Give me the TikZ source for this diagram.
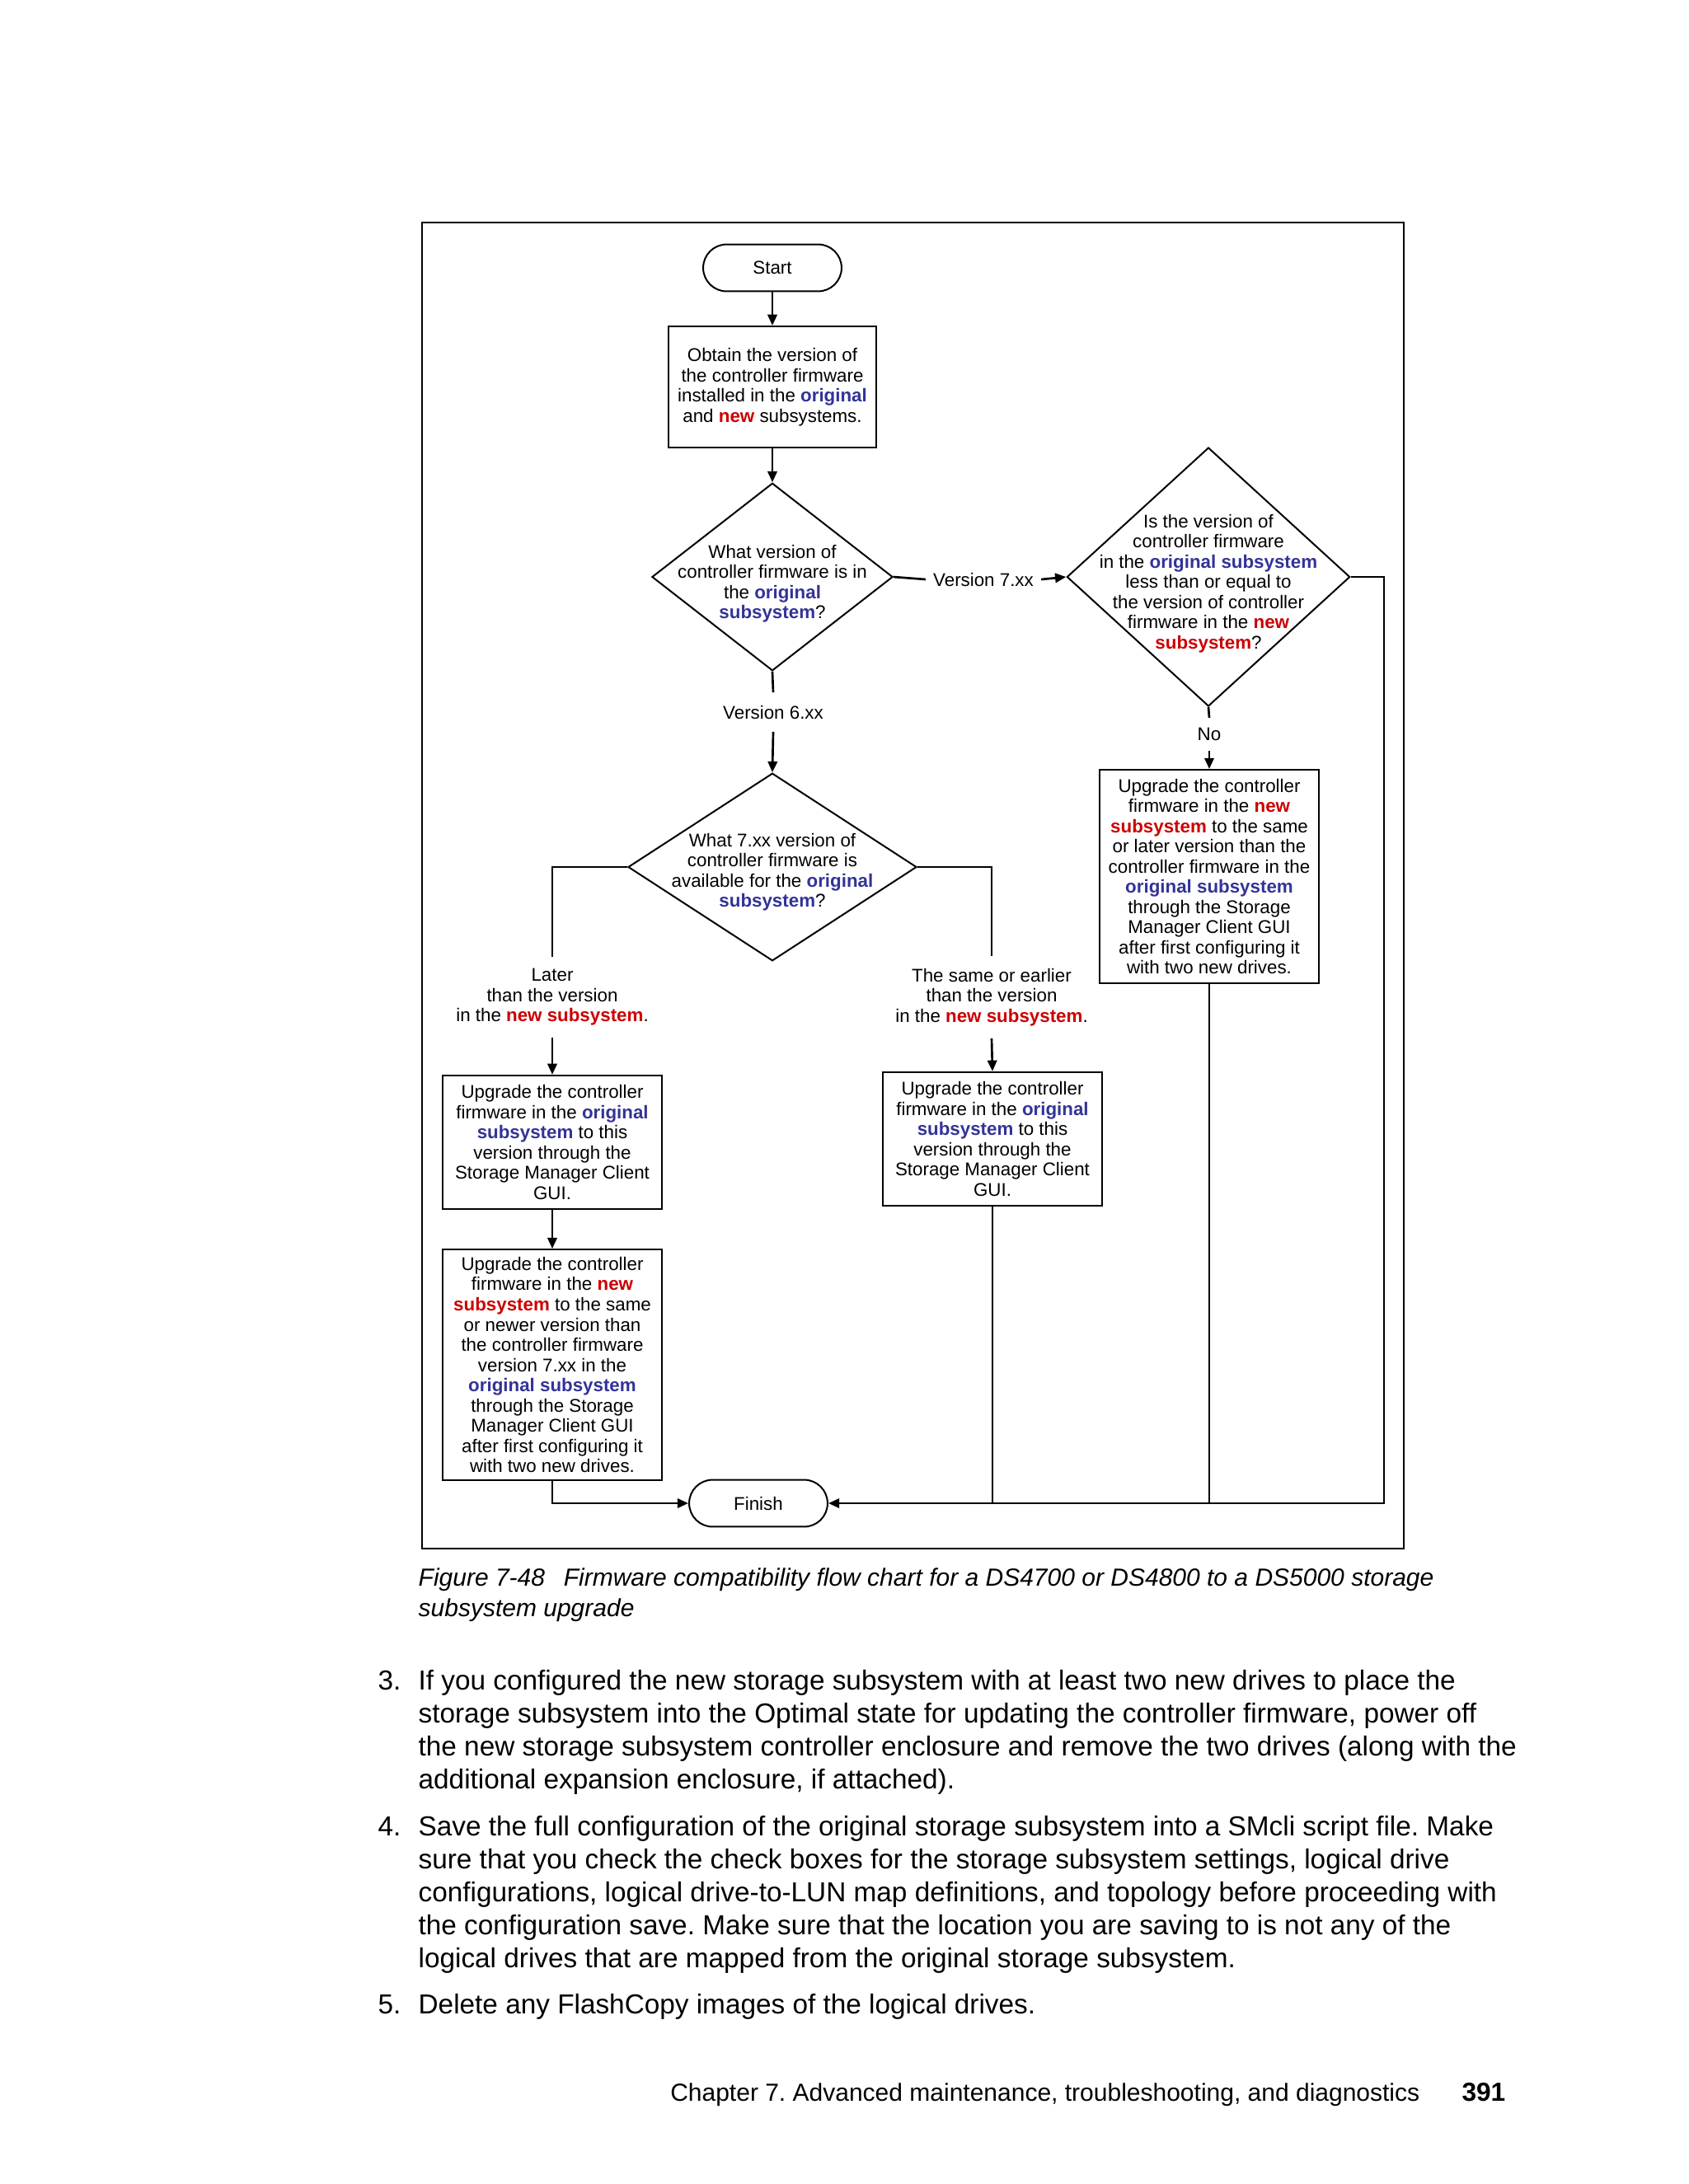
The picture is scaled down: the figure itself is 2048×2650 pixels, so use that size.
\documentclass[tikz,border=0pt]{standalone}
\usepackage{fontspec}
\setmainfont{Liberation Sans}
\usetikzlibrary{shapes.geometric,arrows.meta}

\definecolor{origblue}{RGB}{51,51,153}
\definecolor{newred}{RGB}{204,0,0}
\newcommand{\origtxt}[1]{\textbf{\textcolor{origblue}{#1}}}
\newcommand{\newtxt}[1]{\textbf{\textcolor{newred}{#1}}}
\newcommand{\chartsize}{\fontsize{6.7pt}{7.35pt}\selectfont}
\newcommand{\bodysize}{\fontsize{10pt}{12pt}\selectfont}
\newcommand{\capsize}{\fontsize{9pt}{11pt}\selectfont}
\frenchspacing

\begin{document}
\begin{tikzpicture}[x=0.10542mm,y=-0.10542mm,
  >={Triangle[length=1.4mm,width=1.2mm]},
  terminal/.style={draw,line width=0.6pt,rounded corners=3mm,minimum width=17.7mm,minimum height=6mm,inner sep=0pt,font=\chartsize},
  process/.style={draw,line width=0.6pt,align=center,inner sep=0pt,font=\chartsize,execute at begin node={\rule{0pt}{7pt}}},
  decision/.style={draw,line width=0.6pt,diamond,inner sep=0pt},
  chartlbl/.style={align=center,inner sep=2.6pt,font=\chartsize},
  flow/.style={line width=0.8pt},
  bodyline/.style={anchor=base west,inner sep=0pt,font=\bodysize}]

\useasboundingbox[fill=white] (0,0) rectangle (2048,2650);

% frame of the figure
\draw[line width=0.8pt] (512,270) rectangle (1703,1879);

% top part
\node[terminal] (start) at (937,325) {Start};
\node[process,minimum width=26.6mm,minimum height=15.5mm] (obtain) at (937,469.5)
  {Obtain the version of\\the controller firmware\\installed in the \origtxt{original}\\and \newtxt{new} subsystems.};

\node[decision,minimum width=30.8mm,minimum height=24mm] (q1) at (937,700) {};
\node[chartlbl,inner sep=0pt] (q1txt) at (937,708)
  {What version of\\controller firmware is in\\the \origtxt{original}\\\origtxt{subsystem}?};

\node[chartlbl] (v7) at (1193,703) {Version 7.xx};

\node[decision,minimum width=36.2mm,minimum height=33.1mm] (q2) at (1466,700) {};
\node[chartlbl,inner sep=0pt] (q2txt) at (1466,708)
  {Is the version of\\controller firmware\\in the \origtxt{original subsystem}\\less than or equal to\\the version of controller\\firmware in the \newtxt{new}\\\newtxt{subsystem}?};
\coordinate (rt) at (1679,700);

\node[chartlbl,inner sep=3.5pt] (no) at (1467,891) {No};
\node[process,minimum width=28mm,minimum height=27.3mm] (upnew) at (1467,1063.5)
  {Upgrade the controller\\firmware in the \newtxt{new}\\\newtxt{subsystem} to the same\\or later version than the\\controller firmware in the\\\origtxt{original subsystem}\\through the Storage\\Manager Client GUI\\after first configuring it\\with two new drives.};

% middle part
\node[chartlbl,inner sep=4.5pt] (v6) at (938,864) {Version 6.xx};
\node[decision,minimum width=36.9mm,minimum height=24mm] (q3) at (937,1052) {};
\node[chartlbl,inner sep=0pt] (q3txt) at (937,1058)
  {What 7.xx version of\\controller firmware is\\available for the \origtxt{original}\\\origtxt{subsystem}?};

\node[chartlbl,inner sep=1.5mm] (later) at (670,1210)
  {Later\\than the version\\in the \newtxt{new subsystem}.};
\node[chartlbl,inner sep=1.5mm] (same) at (1203,1210)
  {The same or earlier\\than the version\\in the \newtxt{new subsystem}.};

\node[process,minimum width=28.1mm,minimum height=17.1mm] (upL1) at (670,1386)
  {Upgrade the controller\\firmware in the \origtxt{original}\\\origtxt{subsystem} to this\\version through the\\Storage Manager Client\\GUI.};
\node[process,minimum width=28.1mm,minimum height=29.5mm] (upL2) at (670,1656)
  {Upgrade the controller\\firmware in the \newtxt{new}\\\newtxt{subsystem} to the same\\or newer version than\\the controller firmware\\version 7.xx in the\\\origtxt{original subsystem}\\through the Storage\\Manager Client GUI\\after first configuring it\\with two new drives.};
\node[process,minimum width=28mm,minimum height=17.1mm] (upM) at (1204,1382)
  {Upgrade the controller\\firmware in the \origtxt{original}\\\origtxt{subsystem} to this\\version through the\\Storage Manager Client\\GUI.};

\node[terminal] (finish) at (920,1824) {Finish};

% connectors
\draw[flow,->] (start) -- (obtain);
\draw[flow,->] (obtain) -- (q1);
\draw[flow] (q1.east) -- (v7.west);
\draw[flow,->] (v7.east) -- (q2.west);
\draw[flow] (q1.south) -- (v6.north);
\draw[flow,->] (v6.south) -- (q3.north);
\draw[flow] (q2.south) -- (no.north);
\draw[flow,->] (no.south) -- (upnew.north);
\draw[flow,->] (q2.east) -- (rt) |- (finish.east);
\draw[flow] (upnew.south) -- (upnew.south |- finish.east);
\draw[flow] (q3.west) -| (later.north);
\draw[flow,->] (later.south) -- (upL1.north);
\draw[flow] (q3.east) -| (same.north);
\draw[flow,->] (same.south) -- (upM.north);
\draw[flow,->] (upL1) -- (upL2);
\draw[flow,->] (upL2.south) |- (finish.west);
\draw[flow] (upM.south) -- (upM.south |- finish.east);

% caption
\node[anchor=base west,inner sep=0pt,font=\capsize\itshape] (cap1) at (507,1924)
  {Figure 7-48\hspace{2.4mm}Firmware compatibility flow chart for a DS4700 or DS4800 to a DS5000 storage};
\node[anchor=base west,inner sep=0pt,font=\capsize\itshape] (cap2) at (507,1961)
  {subsystem upgrade};

% body text
\node[bodyline] (n3) at (458,2050) {3.};
\node[bodyline] (b31) at (507,2050) {If you configured the new storage subsystem with at least two new drives to place the};
\node[bodyline] (b32) at (507,2090) {storage subsystem into the Optimal state for updating the controller firmware, power off};
\node[bodyline] (b33) at (507,2130) {the new storage subsystem controller enclosure and remove the two drives (along with the};
\node[bodyline] (b34) at (507,2170) {additional expansion enclosure, if attached).};
\node[bodyline] (n4) at (458,2227) {4.};
\node[bodyline] (b41) at (507,2227) {Save the full configuration of the original storage subsystem into a SMcli script file. Make};
\node[bodyline] (b42) at (507,2267) {sure that you check the check boxes for the storage subsystem settings, logical drive};
\node[bodyline] (b43) at (507,2307) {configurations, logical drive-to-LUN map definitions, and topology before proceeding with};
\node[bodyline] (b44) at (507,2347) {the configuration save. Make sure that the location you are saving to is not any of the};
\node[bodyline] (b45) at (507,2387) {logical drives that are mapped from the original storage subsystem.};
\node[bodyline] (n5) at (458,2443) {5.};
\node[bodyline] (b51) at (507,2443) {Delete any FlashCopy images of the logical drives.};

% footer
\node[anchor=base east,inner sep=0pt,font=\capsize] (foot) at (1723,2549)
  {Chapter 7. Advanced maintenance, troubleshooting, and diagnostics};
\node[anchor=base east,inner sep=0pt,font=\fontsize{9.5pt}{11pt}\selectfont\bfseries] (page) at (1827,2549) {391};
\end{tikzpicture}
\end{document}
